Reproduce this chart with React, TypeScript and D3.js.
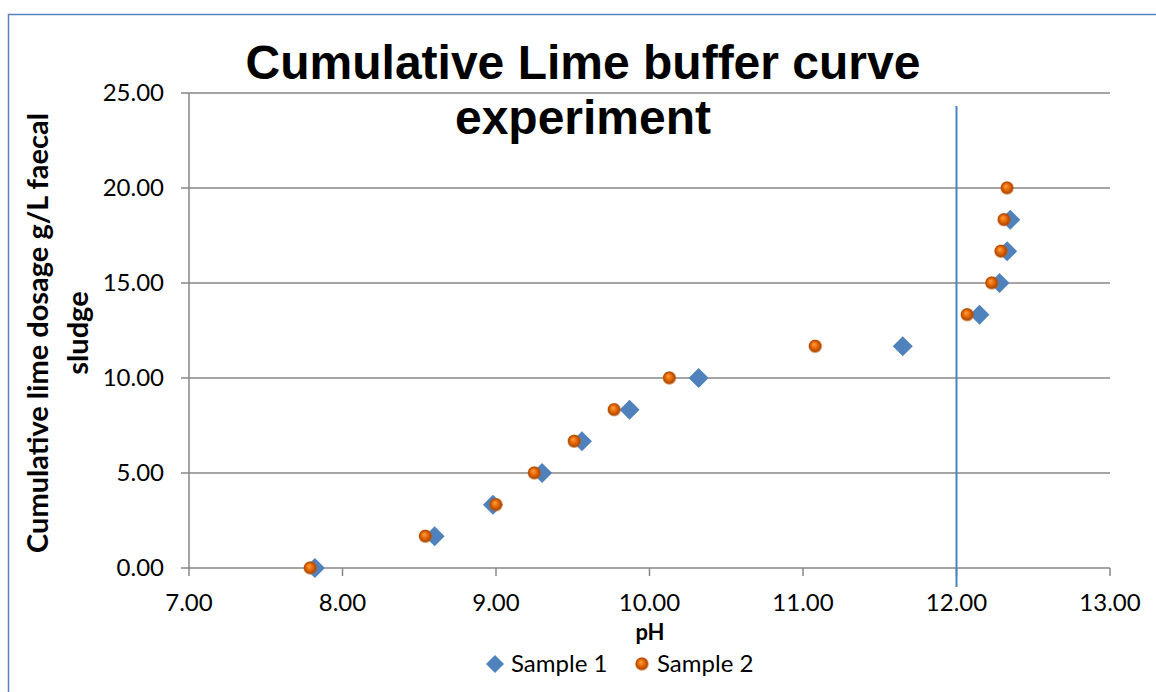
import React from "react";
import * as d3 from "d3";

const sample1pH = [7.82, 8.6, 8.98, 9.3, 9.56, 9.87, 10.32, 11.65, 12.15, 12.28, 12.33, 12.35];
const sample1Dose = [0.0, 1.67, 3.33, 5.0, 6.67, 8.33, 10.0, 11.67, 13.33, 15.0, 16.67, 18.33];
const sample2pH = [7.79, 8.54, 9.0, 9.25, 9.51, 9.77, 10.13, 11.08, 12.07, 12.23, 12.29, 12.31, 12.33];
const sample2Dose = [0.0, 1.67, 3.33, 5.0, 6.67, 8.33, 10.0, 11.67, 13.33, 15.0, 16.67, 18.33, 20.0];
const xTicks = [7, 8, 9, 10, 11, 12, 13];
const yTicks = [0, 5, 10, 15, 20, 25];
const markerLinePH = 12;
const titleLines = ["Cumulative Lime buffer curve", "experiment"];
const yTitleLines = ["Cumulative lime dosage g/L faecal", "sludge"];
const xTitle = "pH";
const seriesNames = ["Sample 1", "Sample 2"];

const W = 1156, H = 692;
const left = 189, right = 1110, top = 93, bottom = 568;
const calibri = "Lato, 'Open Sans', sans-serif";

export default function App() {
  const x = d3.scaleLinear().domain([7, 13]).range([left, right]);
  const y = d3.scaleLinear().domain([0, 25]).range([bottom, top]);
  const grid = "#878787";
  const blue = "#4f81bd";
  const diamond = (cx: number, cy: number, r: number) =>
    `M${cx},${cy - r}L${cx + r},${cy}L${cx},${cy + r}L${cx - r},${cy}Z`;
  const s1 = sample1pH.map((p, i) => ({ p, d: sample1Dose[i] }));
  const s2 = sample2pH.map((p, i) => ({ p, d: sample2Dose[i] }));
  return (
    <svg width={W} height={H} style={{ position: "absolute", left: 0, top: 0, background: "#fff" }}>
      <defs>
        <radialGradient id="ball" cx="0.5" cy="0.5" r="0.5" fx="0.4" fy="0.35">
          <stop offset="0" stopColor="#ffa040" />
          <stop offset="0.45" stopColor="#e86a08" />
          <stop offset="0.8" stopColor="#b04a00" />
          <stop offset="1" stopColor="#c86010" stopOpacity="0.3" />
        </radialGradient>
      </defs>
      <rect x={0} y={0} width={W} height={H} fill="#fff" />
      <path d={`M8.5,${H + 5}V14.5H${W + 5}`} fill="none" stroke="#5682c0" strokeWidth={1.5} />
      {yTicks.filter((t) => t > 0).map((t) => (
        <line key={t} x1={left} x2={right} y1={y(t)} y2={y(t)} stroke={grid} strokeWidth={1.5} />
      ))}
      <line x1={left} x2={left} y1={top} y2={bottom} stroke={grid} strokeWidth={1.5} />
      {yTicks.map((t) => (
        <g key={t}>
          <line x1={left - 8} x2={left} y1={y(t)} y2={y(t)} stroke={grid} strokeWidth={1.5} />
          <text x={164} y={y(t) + 8} textAnchor="end" fontFamily={calibri} fontSize={24} fill="#000">
            {t.toFixed(2)}
          </text>
        </g>
      ))}
      <line x1={left} x2={right} y1={bottom} y2={bottom} stroke={grid} strokeWidth={1.5} />
      {xTicks.map((t) => (
        <g key={t}>
          <line x1={x(t)} x2={x(t)} y1={bottom} y2={bottom + 8} stroke={grid} strokeWidth={1.5} />
          <text x={x(t)} y={611} textAnchor="middle" fontFamily={calibri} fontSize={24} fill="#000">
            {t.toFixed(2)}
          </text>
        </g>
      ))}
      <line x1={x(markerLinePH)} x2={x(markerLinePH)} y1={106} y2={587} stroke={blue} strokeWidth={2} />
      {s1.map((d, i) => (
        <path key={"a" + i} d={diamond(x(d.p), y(d.d), 10)} fill={blue} />
      ))}
      {s2.map((d, i) => (
        <circle key={"b" + i} cx={x(d.p)} cy={y(d.d)} r={7} fill="url(#ball)" />
      ))}
      <text x={583} y={79} textAnchor="middle" fontFamily="'Liberation Sans', Arial, sans-serif" fontWeight="bold" fontSize={48} fill="#000">
        {titleLines[0]}
      </text>
      <text x={583} y={134} textAnchor="middle" fontFamily="'Liberation Sans', Arial, sans-serif" fontWeight="bold" fontSize={48} fill="#000">
        {titleLines[1]}
      </text>
      <text transform={`translate(48,333) rotate(-90)`} textAnchor="middle" fontFamily={calibri} fontWeight="bold" fontSize={29} fill="#000">
        {yTitleLines[0]}
      </text>
      <text transform={`translate(88,333) rotate(-90)`} textAnchor="middle" fontFamily={calibri} fontWeight="bold" fontSize={29} fill="#000">
        {yTitleLines[1]}
      </text>
      <text x={650} y={640} textAnchor="middle" fontFamily={calibri} fontWeight="bold" fontSize={22} fill="#000">
        {xTitle}
      </text>
      <path d={diamond(495, 664, 9)} fill={blue} />
      <text x={511} y={672} fontFamily={calibri} fontSize={24} fill="#000">{seriesNames[0]}</text>
      <circle cx={642} cy={664} r={7} fill="url(#ball)" />
      <text x={657} y={672} fontFamily={calibri} fontSize={24} fill="#000">{seriesNames[1]}</text>
    </svg>
  );
}
